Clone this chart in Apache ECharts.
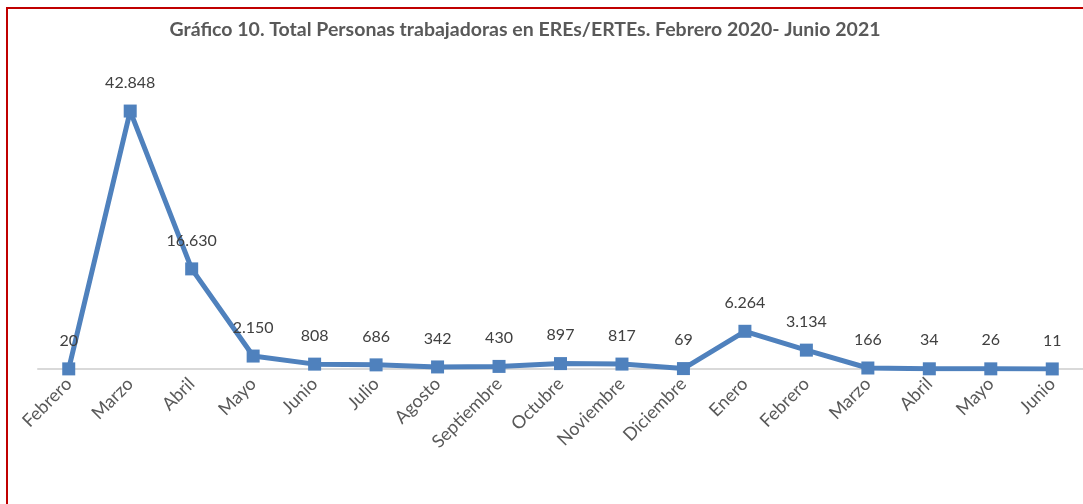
<!DOCTYPE html>
<html>
<head>
<meta charset="utf-8">
<script src="https://cdn.jsdelivr.net/npm/echarts@6/dist/echarts.min.js"></script>
<style>
  html, body { margin: 0; padding: 0; background: #fff; }
  .frame {
    position: absolute; left: 6px; top: 7px; width: 1100px; height: 520px;
    border-left: 2px solid #c00000; border-top: 2px solid #c00000;
  }
  #chart { position: absolute; left: 0; top: 0; width: 1083px; height: 504px; }
</style>
</head>
<body>
<div class="frame"></div>
<div id="chart"></div>
<script>
  var meses = ['Febrero', 'Marzo', 'Abril', 'Mayo', 'Junio', 'Julio', 'Agosto', 'Septiembre', 'Octubre',
    'Noviembre', 'Diciembre', 'Enero', 'Febrero', 'Marzo', 'Abril', 'Mayo', 'Junio'];
  var personas = [20, 42848, 16630, 2150, 808, 686, 342, 430, 897, 817, 69, 6264, 3134, 166, 34, 26, 11];

  function formatNum(v) {
    return String(v).replace(/\B(?=(\d{3})+(?!\d))/g, '.');
  }

  var chart = echarts.init(document.getElementById('chart'));
  chart.setOption({
    animation: false,
    textStyle: { fontFamily: 'Lato' },
    title: {
      text: 'Gráfico 10. Total Personas trabajadoras en EREs/ERTEs. Febrero 2020- Junio 2021',
      left: 520,
      textAlign: 'center',
      top: 15,
      textStyle: { fontSize: 19.5, fontWeight: 'bold', color: '#595959', fontFamily: 'Lato' }
    },
    grid: { left: 38, width: 1052, top: 68, height: 301, containLabel: false },
    xAxis: {
      type: 'category',
      data: meses,
      boundaryGap: true,
      axisLine: { lineStyle: { color: '#d9d9d9', width: 2 } },
      axisTick: { show: false },
      axisLabel: { rotate: 45, margin: 12, fontSize: 18, color: '#595959', interval: 0 }
    },
    yAxis: {
      type: 'value',
      min: 0,
      max: 50000,
      show: false,
      splitLine: { show: false }
    },
    series: [{
      type: 'line',
      data: personas,
      symbol: 'rect',
      symbolSize: 13,
      lineStyle: { color: '#4f81bd', width: 5 },
      itemStyle: { color: '#4f81bd' },
      label: {
        show: true,
        position: 'top',
        distance: 14,
        fontSize: 16,
        color: '#404040',
        formatter: function (p) { return formatNum(p.value); }
      }
    }]
  });
</script>
</body>
</html>
